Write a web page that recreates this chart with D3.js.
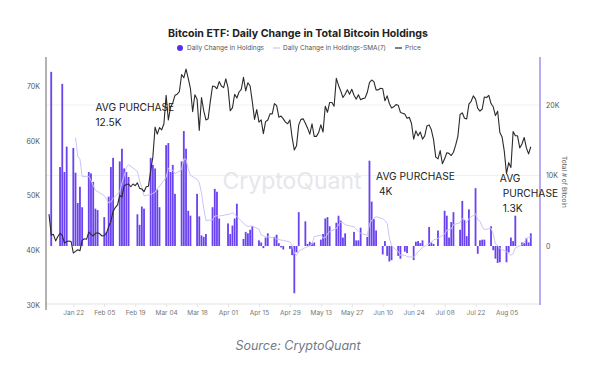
<!DOCTYPE html>
<html>
<head>
<meta charset="utf-8">
<script src="https://cdn.jsdelivr.net/npm/d3@7"></script>
<style>
  html, body { margin: 0; padding: 0; background: #fff; }
  svg { display: block; }
  text { font-family: Inter, "Noto Sans", sans-serif; }
</style>
</head>
<body>
<svg id="chart" width="615" height="376"></svg>
<script>
/* Bitcoin ETF: daily change in total holdings (bars, right axis, K BTC)
   with the BTC price (line, left axis, K USD). */

// ---- data ---------------------------------------------------------------
var priceStart = '2024-01-11';   // one close per calendar day from here
var priceK = [
  // Jan 11-31
  46.6, 42.8, 42.9, 41.7, 42.5, 43.1, 42.7, 41.3, 41.6, 41.7, 41.6, 39.5, 39.8, 40.1, 39.9, 41.8, 42.1, 42.0, 43.3, 42.9, 42.6,
  // Feb
  43.1, 43.2, 43.0, 42.6, 42.7, 43.1, 44.3, 45.3, 47.1, 47.8, 48.3, 50.0, 49.7, 51.8, 52.0, 52.1, 51.6, 52.1, 51.8, 52.3, 51.3, 51.2, 50.7, 51.6, 51.7, 54.5, 57.1, 62.5, 61.2,
  // Mar
  62.4, 62.0, 63.1, 68.3, 63.8, 66.1, 66.9, 68.3, 68.5, 69.0, 72.1, 71.5, 73.1, 71.4, 69.5, 65.3, 68.4, 67.6, 61.9, 67.9, 65.5, 63.8, 64.0, 67.2, 70.0, 69.9, 69.5, 70.8, 70.0, 69.7, 71.3,
  // Apr
  69.7, 65.5, 66.0, 68.5, 67.8, 68.9, 69.4, 71.6, 69.1, 70.6, 70.0, 67.1, 63.9, 65.7, 63.4, 63.8, 61.3, 63.5, 63.8, 64.9, 64.9, 66.8, 66.4, 64.3, 64.5, 64.0, 63.4, 63.1, 63.8, 60.6,
  // May
  58.3, 59.1, 62.9, 63.9, 64.0, 63.2, 62.3, 61.2, 63.1, 60.8, 60.8, 61.5, 62.9, 61.6, 66.3, 65.2, 67.0, 67.0, 66.3, 71.4, 70.1, 69.1, 67.9, 68.5, 69.3, 68.5, 69.4, 68.3, 67.6, 68.4, 67.5,
  // Jun
  67.7, 67.8, 68.8, 70.6, 71.1, 70.8, 69.3, 69.3, 69.6, 69.5, 67.3, 68.2, 66.8, 66.0, 66.2, 66.6, 66.5, 65.2, 65.0, 64.9, 64.1, 64.3, 63.2, 60.3, 61.8, 60.9, 61.6, 60.3, 60.9, 62.7,
  // Jul
  62.9, 62.0, 60.2, 57.0, 56.7, 58.2, 55.8, 56.7, 57.8, 57.7, 57.3, 57.9, 59.2, 60.8, 64.8, 65.1, 64.1, 64.0, 66.7, 67.2, 68.2, 67.6, 65.9, 65.4, 65.8, 68.0, 67.9, 68.3, 66.8, 66.2, 64.6,
  // Aug 1-16
  65.4, 61.5, 60.7, 58.1, 54.0, 56.0, 55.1, 61.7, 60.9, 60.9, 58.7, 59.4, 60.6, 58.7, 57.6, 58.9
];

// trading days (MM-DD, 2024) and the daily change in holdings, thousands of BTC
var flowDays = [
  '01-12', '01-16', '01-17', '01-18', '01-19', '01-22', '01-23', '01-24', '01-25', '01-26',
  '01-29', '01-30', '01-31', '02-01', '02-02', '02-05', '02-06', '02-07', '02-08', '02-09',
  '02-12', '02-13', '02-14', '02-15', '02-16', '02-20', '02-21', '02-22', '02-23',
  '02-26', '02-27', '02-28', '02-29', '03-01', '03-04', '03-05', '03-06', '03-07', '03-08',
  '03-11', '03-12', '03-13', '03-14', '03-15', '03-18', '03-19', '03-20', '03-21', '03-22',
  '03-25', '03-26', '03-27', '03-28', '04-01', '04-02', '04-03', '04-04', '04-05',
  '04-08', '04-09', '04-10', '04-11', '04-12', '04-15', '04-16', '04-17', '04-18', '04-19',
  '04-22', '04-23', '04-24', '04-25', '04-26', '04-29', '04-30', '05-01', '05-02', '05-03',
  '05-06', '05-07', '05-08', '05-09', '05-10', '05-13', '05-14', '05-15', '05-16', '05-17',
  '05-20', '05-21', '05-22', '05-23', '05-24', '05-28', '05-29', '05-30', '05-31',
  '06-03', '06-04', '06-05', '06-06', '06-07', '06-10', '06-11', '06-12', '06-13', '06-14',
  '06-17', '06-18', '06-20', '06-21', '06-24', '06-25', '06-26', '06-27', '06-28',
  '07-01', '07-02', '07-03', '07-05', '07-08', '07-09', '07-10', '07-11', '07-12',
  '07-15', '07-16', '07-17', '07-18', '07-19', '07-22', '07-23', '07-24', '07-25', '07-26',
  '07-29', '07-30', '07-31', '08-01', '08-02', '08-05', '08-06', '08-07', '08-08', '08-09',
  '08-12', '08-13', '08-14', '08-15', '08-16'
];
var flowK = [
  24.7, 11.2, 23.0, 10.5, 14.1, 13.9, 10.4, 6.1, 8.4, 5.5,
  10.5, 10.3, 9.1, 5.3, 5.1, 4.1, 2.0, 7.0, 11.2, 12.5,
  12.0, 13.8, 11.0, 10.5, 9.8, 4.5, 3.0, 5.6, 5.3,
  12.5, 11.5, 11.0, 8.0, 5.5, 14.3, 14.6, 10.5, 11.5, 7.4,
  12.0, 16.3, 13.8, 5.0, 4.3, 7.4, 4.2, 1.5, 1.3, 1.7,
  5.5, 8.1, 7.7, 3.9, 3.2, 1.7, 2.9, 3.9, 6.0,
  1.0, 2.0, 1.8, 2.3, 2.8, 0.8, 0.5, -0.3, 1.2, 1.8,
  1.3, 1.6, 0.4, -0.2, -0.5, -0.4, -1.3, -6.7, -0.9, 4.8,
  3.5, 0.3, 0.6, 0.4, 0.5, 0.9, 1.7, 3.9, 4.1, 2.8,
  3.3, 4.3, 3.6, 1.2, 1.8, 2.0, 0.8, 0.8, 2.6,
  1.3, 12.1, 6.3, 3.8, 2.2, -1.2, 0.7, -1.4, -2.2, -2.0,
  -1.4, -1.8, -0.8, -1.0, -2.0, 0.6, 0.7, 0.4, 0.8,
  2.7, 0.5, 0.3, 2.2, 5.0, 4.3, 1.2, 3.4, 4.8,
  2.3, 6.4, 3.7, 1.4, 5.2, 8.2, -1.1, 0.8, 0.9, 0.9,
  2.8, -0.6, -1.8, -2.4, -2.3, -2.3, -0.9, 1.2, 0.7, 4.3,
  0.5, 0.4, 1.1, 0.5, 1.8
];

var smaWindow = 7;
var priceTicks = [30, 40, 50, 60, 70];
var flowTicks = [0, 10, 20];
var dateTicks = ['2024-01-22', '2024-02-05', '2024-02-19', '2024-03-04', '2024-03-18',
  '2024-04-01', '2024-04-15', '2024-04-29', '2024-05-13', '2024-05-27', '2024-06-10',
  '2024-06-24', '2024-07-08', '2024-07-22', '2024-08-05'];

// callouts: anchored at a date (x) and a holdings level (y, K BTC)
var notes = [
  { day: '02-01', k: 19.2, lines: ['AVG PURCHASE', '12.5K'] },
  { day: '06-07', k: 9.4, lines: ['AVG PURCHASE', ' 4K'] },
  { day: '08-02', k: 9.1, lines: ['AVG', ' PURCHASE', ' 1.3K'] }
];

// ---- chart --------------------------------------------------------------
(function () {
  var parse = d3.timeParse('%Y-%m-%d');
  var svg = d3.select('#chart');
  var C = { price: '#2b2b2b', bar: '#6a42f0', sma: '#cdc4f6', axis: '#666',
            right: '#a18ff2', grid: '#f1f1f3' };

  var t0 = parse(priceStart);
  var price = priceK.map(function (v, i) { return { date: d3.timeDay.offset(t0, i), v: v }; });
  var flows = flowDays.map(function (d, i) { return { date: parse('2024-' + d), v: flowK[i] }; });
  var sma = flows.slice(smaWindow - 1).map(function (d, i) {
    return { date: d.date, v: d3.mean(flows.slice(i, i + smaWindow), function (f) { return f.v; }) };
  });

  var x = d3.scaleTime().domain([t0, parse('2024-08-16')]).range([49, 530.8]);
  var yP = d3.scaleLinear().domain([30, 70]).range([305, 86]);
  var yF = d3.scaleLinear().domain([0, 20]).range([246, 105]);
  var L = 46, R = 540, T = 57, B = 305;

  // grid (follows right axis)
  svg.append('g').selectAll('line').data(flowTicks.slice(1)).join('line')
    .attr('x1', L).attr('x2', R).attr('y1', function (d) { return yF(d); }).attr('y2', function (d) { return yF(d); })
    .attr('stroke', C.grid).attr('stroke-width', 1);

  // watermark
  svg.append('text').attr('x', 292).attr('y', 189).attr('text-anchor', 'middle')
    .attr('font-size', 23).attr('fill', '#e6e6ec').attr('font-family', 'Lato, Inter, sans-serif')
    .text('CryptoQuant');

  // x axis
  var gx = svg.append('g').attr('transform', 'translate(0,' + (B - 1) + ')')
    .call(d3.axisBottom(x).tickValues(dateTicks.map(parse)).tickFormat(d3.timeFormat('%b %d')).tickSize(3).tickPadding(3));
  gx.select('.domain').remove();
  gx.insert('line', ':first-child').attr('x1', L).attr('x2', R).attr('stroke', '#e4e4e4');
  gx.selectAll('.tick line').attr('stroke', '#e4e4e4');
  gx.selectAll('.tick text').attr('fill', '#777').attr('font-size', 6.5).attr('font-family', 'Inter, sans-serif');

  // left axis (price)
  var gl = svg.append('g').attr('transform', 'translate(' + L + ',0)')
    .call(d3.axisLeft(yP).tickValues(priceTicks).tickFormat(function (d) { return d + 'K'; }).tickSize(0).tickPadding(6));
  gl.select('.domain').remove();
  gl.insert('line', ':first-child').attr('y1', T).attr('y2', B + 5).attr('stroke', C.axis).attr('stroke-width', 1);
  gl.selectAll('.tick text').attr('fill', '#555').attr('font-size', 7).attr('font-family', 'Inter, sans-serif');

  // right axis (flows)
  var gr = svg.append('g').attr('transform', 'translate(' + R + ',0)')
    .call(d3.axisRight(yF).tickValues(flowTicks).tickFormat(function (d) { return d ? d + 'K' : '0'; }).tickSize(0).tickPadding(6));
  gr.select('.domain').remove();
  gr.selectAll('.tick text').attr('fill', '#555').attr('font-size', 7).attr('font-family', 'Inter, sans-serif');
  svg.append('text').attr('transform', 'translate(562,182) rotate(90)').attr('text-anchor', 'middle')
    .attr('font-size', 6.5).attr('fill', '#666').text('Total # of Bitcoin');

  // bars
  svg.append('g').selectAll('rect').data(flows).join('rect')
    .attr('x', function (d) { return x(d.date) - 0.9; }).attr('width', 1.8)
    .attr('y', function (d) { return Math.min(yF(d.v), yF(0)); })
    .attr('height', function (d) { return Math.abs(yF(d.v) - yF(0)); })
    .attr('fill', C.bar);

  // SMA(7) line
  svg.append('path').datum(sma)
    .attr('d', d3.line().x(function (d) { return x(d.date); }).y(function (d) { return yF(d.v); }))
    .attr('fill', 'none').attr('stroke', C.sma).attr('stroke-width', 1);

  // price line
  svg.append('path').datum(price)
    .attr('d', d3.line().x(function (d) { return x(d.date); }).y(function (d) { return yP(d.v); }))
    .attr('fill', 'none').attr('stroke', C.price).attr('stroke-width', 1.1).attr('stroke-linejoin', 'round');

  // right axis line on top of bars
  svg.append('line').attr('x1', R).attr('x2', R).attr('y1', T).attr('y2', B)
    .attr('stroke', C.right).attr('stroke-width', 1.5);

  // annotations
  notes.forEach(function (n) {
    var nx = x(parse('2024-' + n.day));
    var t = svg.append('text').attr('x', nx).attr('y', yF(n.k))
      .attr('font-family', '"Open Sans", sans-serif').attr('font-size', 10.2).attr('fill', '#222')
      .style('white-space', 'pre');
    n.lines.forEach(function (s, i) {
      t.append('tspan').attr('x', nx).attr('dy', i ? 15 : 0).text(s);
    });
  });

  // title + legend
  svg.append('text').attr('x', 298).attr('y', 37).attr('text-anchor', 'middle')
    .attr('font-size', 10.6).attr('font-weight', 700).attr('fill', '#222').text('Bitcoin ETF: Daily Change in Total Bitcoin Holdings');
  var lg = svg.append('g').attr('font-size', 6.5).attr('fill', '#555');
  lg.append('circle').attr('cx', 180).attr('cy', 48).attr('r', 3).attr('fill', '#5530e6');
  lg.append('text').attr('x', 187).attr('y', 50.3).text('Daily Change in Holdings');
  lg.append('line').attr('x1', 273).attr('x2', 280).attr('y1', 48).attr('y2', 48).attr('stroke', C.sma).attr('stroke-width', 1.2);
  lg.append('text').attr('x', 283).attr('y', 50.3).text('Daily Change in Holdings-SMA(7)');
  lg.append('line').attr('x1', 395).attr('x2', 402).attr('y1', 48).attr('y2', 48).attr('stroke', C.price).attr('stroke-width', 1.2);
  lg.append('text').attr('x', 405).attr('y', 50.3).text('Price');

  // source
  svg.append('text').attr('x', 298).attr('y', 350).attr('text-anchor', 'middle')
    .attr('font-family', '"Open Sans", sans-serif').attr('font-style', 'italic')
    .attr('font-size', 12.5).attr('fill', '#6f7a88').text('Source: CryptoQuant');
})();
</script>
</body>
</html>
